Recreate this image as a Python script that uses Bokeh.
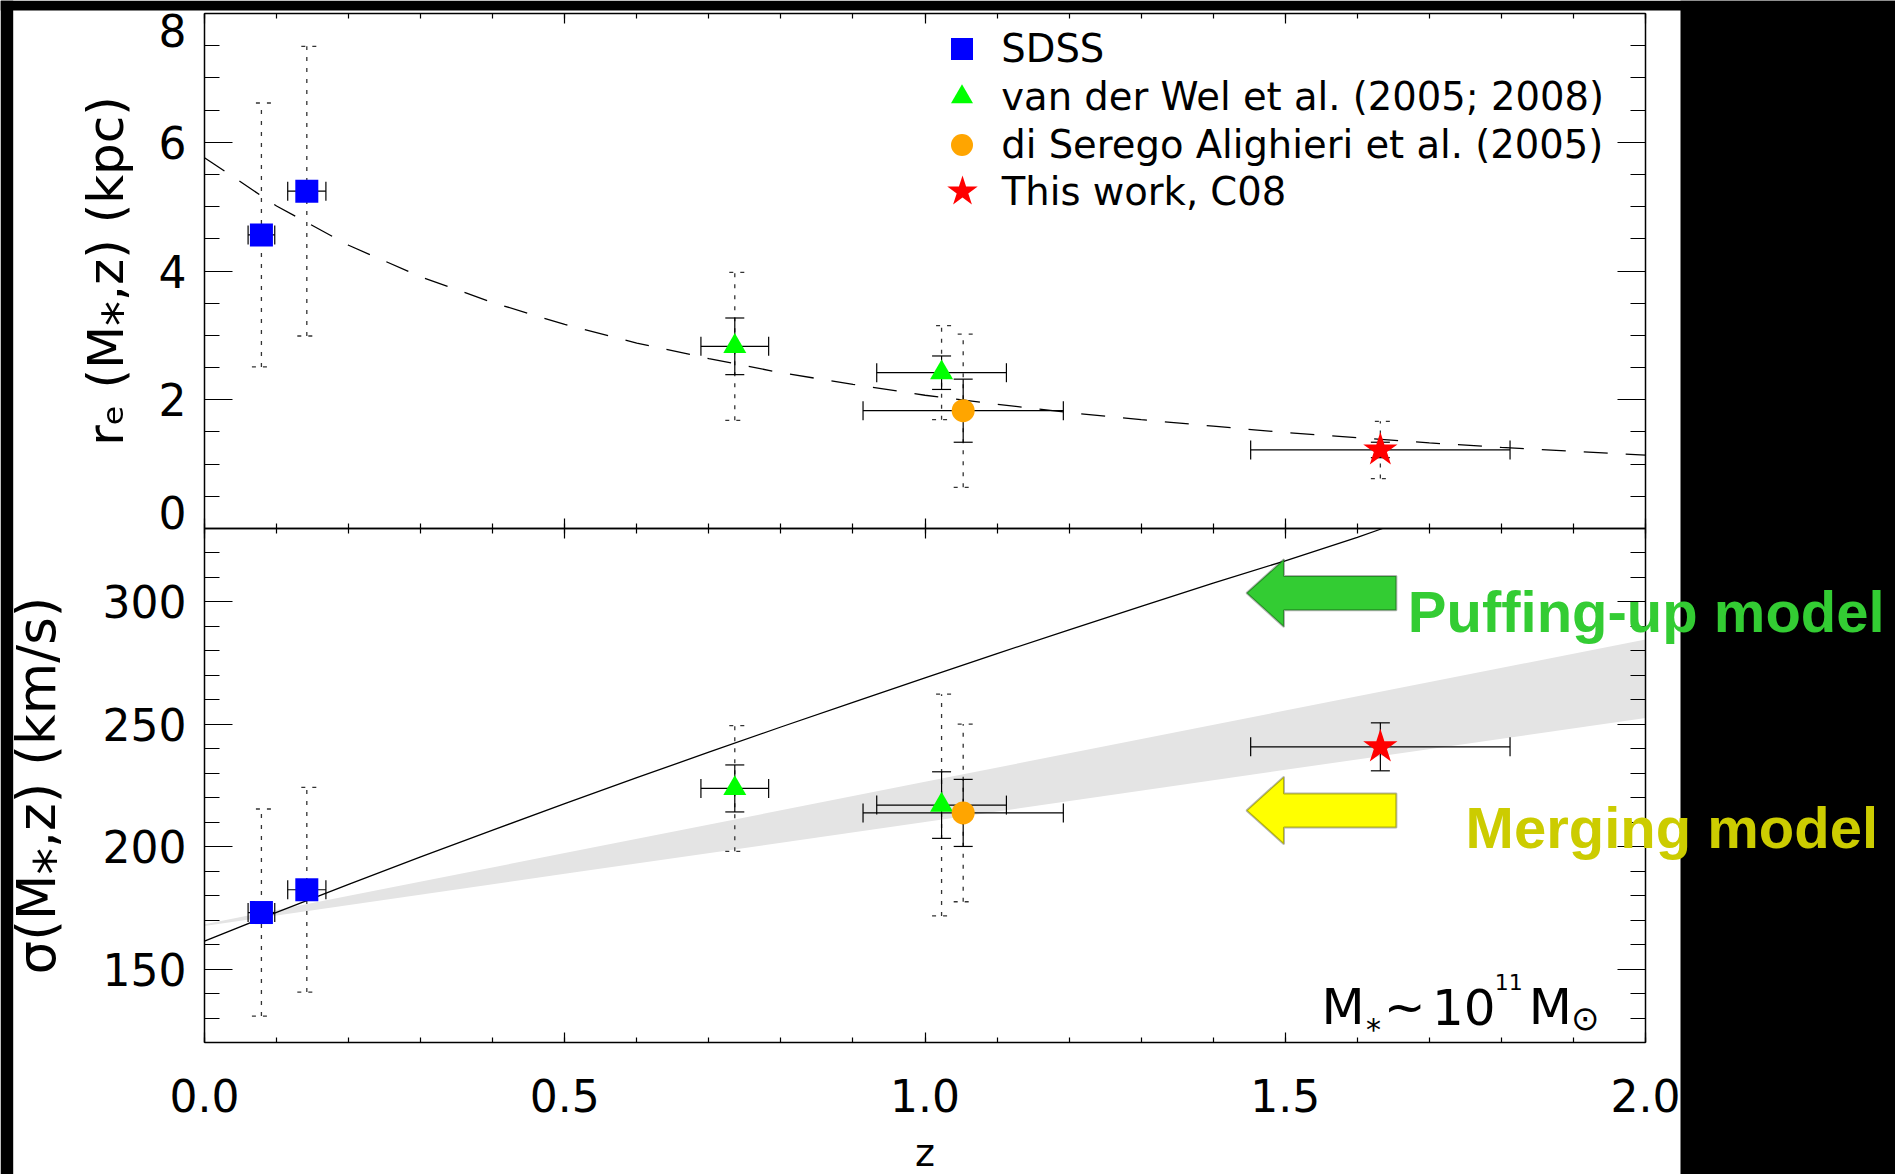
from bokeh.plotting import figure
from bokeh.models import (ColumnDataSource, Whisker, TeeHead, LinearAxis, SingleIntervalTicker,
                          Range1d, Legend, LegendItem, Label, BoxAnnotation, Band, PolyAnnotation,
                          PrintfTickFormatter, BasicTickFormatter)
from bokeh.embed import file_html
from bokeh.resources import INLINE

# ---------------- data ----------------
# SDSS
sdss_z = [0.079, 0.142]
sdss_zerr = [0.0185, 0.0265]
sdss_re = [4.56, 5.24]
sdss_re_scatter = [2.05, 2.25]
sdss_sigma = [173.1, 182.4]
sdss_sigma_scatter = [42.3, 41.8]

# van der Wel et al. (2005; 2008)
vdw_z = [0.736, 1.023]
vdw_zerr = [0.047, 0.090]
vdw_re = [2.83, 2.42]
vdw_re_err = [0.44, 0.26]
vdw_re_scatter = [1.15, 0.73]
vdw_sigma = [223.8, 217.0]
vdw_sigma_err = [9.6, 13.6]
vdw_sigma_scatter = [25.7, 45.3]

# di Serego Alighieri et al. (2005)
dsa_z = [1.053]
dsa_zerr = [0.139]
dsa_re = [1.83]
dsa_re_err = [0.49]
dsa_re_scatter = [1.19]
dsa_sigma = [213.8]
dsa_sigma_err = [13.7]
dsa_sigma_scatter = [36.3]

# This work, C08
c08_z = [1.632]
c08_zerr = [0.18]
c08_re = [1.22]
c08_re_err = [0.12]
c08_re_scatter = [0.445]
c08_sigma = [240.8]
c08_sigma_err = [9.8]

# size evolution curve r_e(z)
curve_z = [0.0, 0.1, 0.2, 0.3, 0.4, 0.5, 0.6, 0.7, 0.8, 0.9, 1.0,
           1.1, 1.2, 1.3, 1.4, 1.5, 1.6, 1.7, 1.8, 1.9, 2.0]
curve_re = [5.76, 5.01, 4.40, 3.91, 3.51, 3.17, 2.88, 2.64, 2.42, 2.24, 2.07,
            1.93, 1.80, 1.69, 1.59, 1.49, 1.41, 1.33, 1.26, 1.20, 1.14]

# puffing-up prediction sigma(z), up to where it leaves the panel
puff_z = [0.0, 0.1, 0.2, 0.3, 0.4, 0.5, 0.6, 0.7, 0.8, 0.9,
          1.0, 1.1, 1.2, 1.3, 1.4, 1.5, 1.6, 1.635]
puff_sigma = [161.4, 173.2, 184.6, 195.8, 206.8, 217.6, 228.2, 238.6, 248.9, 259.0,
              269.0, 278.9, 288.6, 298.2, 307.7, 316.8, 326.4, 330.0]

# merging prediction band
band_z = [0.0, 0.5, 1.0, 1.5, 2.0]
band_lo = [167.6, 188.9, 210.1, 231.4, 252.6]
band_hi = [168.3, 197.4, 226.5, 255.6, 284.7]

# axis limits and labels
z_limits = (0.0, 2.0)
re_limits = (0.0, 8.0)
sigma_limits = (120.0, 330.0)

series_labels = ["SDSS", "van der Wel et al. (2005; 2008)",
                 "di Serego Alighieri et al. (2005)", "This work, C08"]
re_title = "rₑ (M⁎,z) (kpc)"
sigma_title = "σ(M⁎,z) (km/s)"

# ---------------- page geometry (pixels) ----------------
PAGE_W, PAGE_H = 1895, 1174
PANEL_L, PANEL_R = 204, 1645          # panel frame, left / right
TOP_Y, MID_Y, BOT_Y = 13, 528, 1042   # panel frame, top / divider / bottom

TEXT_FONT = "DejaVu Sans"
NOTE_FONT = "Liberation Sans"
BLUE, GREEN, ORANGE, RED = "#0000ff", "#00ff00", "#ffa500", "#ff0000"
SCATTER_COLOR = "#333333"
DOT = "4 7"

# the whole canvas is one frame; both panels share it through two y ranges
zpp = (z_limits[1] - z_limits[0]) / (PANEL_R - PANEL_L)
x_start = z_limits[0] - PANEL_L * zpp
x_end = z_limits[1] + (PAGE_W - PANEL_R) * zpp

spp = (sigma_limits[1] - sigma_limits[0]) / (BOT_Y - MID_Y)
sig_start = sigma_limits[0] - (PAGE_H - BOT_Y) * spp
sig_end = sigma_limits[1] + MID_Y * spp

rpp = (re_limits[1] - re_limits[0]) / (MID_Y - TOP_Y)
re_start = re_limits[0] - (PAGE_H - MID_Y) * rpp
re_end = re_limits[1] + TOP_Y * rpp


def z_at(px):
    return x_start + px * zpp


def sig_at(py):
    return sig_end - py * spp


p = figure(width=PAGE_W, height=PAGE_H, x_range=Range1d(x_start, x_end),
           y_range=Range1d(sig_start, sig_end), extra_y_ranges={"re": Range1d(re_start, re_end)},
           x_axis_location=None, y_axis_location=None, toolbar_location=None,
           output_backend="svg", min_border=0, outline_line_color=None,
           background_fill_color="white", border_fill_color="white")
p.grid.visible = False

z_ticker = SingleIntervalTicker(interval=0.5, num_minor_ticks=5)
re_ticker = SingleIntervalTicker(interval=2, num_minor_ticks=4)
sigma_ticker = SingleIntervalTicker(interval=50, num_minor_ticks=5)


def add_axis(side, ticker, loc, bounds, major_len, minor_len, y_range_name="default",
             show_labels=False, formatter=None, title=None, label_standoff=18,
             title_standoff=24, title_size="50px", overrides=None):
    ax = LinearAxis(ticker=ticker, fixed_location=loc, bounds=bounds, y_range_name=y_range_name,
                    major_tick_in=major_len, major_tick_out=0,
                    minor_tick_in=minor_len, minor_tick_out=0,
                    axis_line_color="black", axis_line_width=1.5,
                    major_tick_line_color="black", major_tick_line_width=1.2,
                    minor_tick_line_color="black", minor_tick_line_width=1.2)
    if show_labels:
        ax.formatter = formatter or BasicTickFormatter()
        ax.major_label_text_font = TEXT_FONT
        ax.major_label_text_font_size = "44px"
        ax.major_label_text_color = "black"
        ax.major_label_standoff = label_standoff
        if overrides:
            ax.major_label_overrides = overrides
    else:
        ax.formatter = PrintfTickFormatter(format="")
        ax.major_label_text_font_size = "0px"
        ax.major_label_standoff = 0
    if title:
        ax.axis_label = title
        ax.axis_label_text_font = TEXT_FONT
        ax.axis_label_text_font_size = title_size
        ax.axis_label_text_font_style = "normal"
        ax.axis_label_text_color = "black"
        ax.axis_label_standoff = title_standoff
    p.add_layout(ax, side)
    return ax


# upper panel box (r_e)
add_axis("left", re_ticker, z_limits[0], re_limits, 28, 15, "re", show_labels=True,
         title=re_title, title_standoff=21,
         overrides={int(re_limits[0]): "", int(re_limits[1]): ""})
add_axis("right", re_ticker, z_limits[1], re_limits, 28, 15, "re")
add_axis("above", z_ticker, re_limits[1], z_limits, 10, 5, "re")
add_axis("below", z_ticker, re_limits[0], z_limits, 10, 5, "re")

# lower panel box (sigma)
add_axis("left", sigma_ticker, z_limits[0], sigma_limits, 28, 15, show_labels=True,
         title=sigma_title, title_standoff=33, title_size="53px")
add_axis("right", sigma_ticker, z_limits[1], sigma_limits, 28, 15)
add_axis("above", z_ticker, sigma_limits[1], z_limits, 10, 5)
add_axis("below", z_ticker, sigma_limits[0], z_limits, 10, 5, show_labels=True,
         formatter=PrintfTickFormatter(format="%.1f"), label_standoff=36,
         title="z", title_standoff=16, title_size="38px")

# end labels of the r_e axis sit just inside the panel
for val, off in [(re_limits[1], -16.5), (re_limits[0], 16.5)]:
    p.add_layout(Label(x=z_limits[0], y=val, y_range_name="re", x_offset=-18, y_offset=off,
                       text=f"{val:.0f}", text_align="right", text_baseline="middle",
                       text_font=TEXT_FONT, text_font_size="44px", text_color="black"))


def add_errors(xs, ys, xerr=None, yerr=None, yscatter=None, y_range_name="default"):
    if yscatter:
        src = ColumnDataSource(dict(x=xs, lo=[y - e for y, e in zip(ys, yscatter)],
                                    hi=[y + e for y, e in zip(ys, yscatter)]))
        head = dict(size=19, line_color=SCATTER_COLOR, line_width=1.3, line_dash=DOT)
        p.add_layout(Whisker(source=src, base="x", lower="lo", upper="hi", dimension="height",
                             y_range_name=y_range_name, level="underlay",
                             line_color=SCATTER_COLOR, line_width=1.3, line_dash=DOT,
                             lower_head=TeeHead(**head), upper_head=TeeHead(**head)))
    if yerr:
        src = ColumnDataSource(dict(x=xs, lo=[y - e for y, e in zip(ys, yerr)],
                                    hi=[y + e for y, e in zip(ys, yerr)]))
        head = dict(size=19, line_color="black", line_width=1.2)
        p.add_layout(Whisker(source=src, base="x", lower="lo", upper="hi", dimension="height",
                             y_range_name=y_range_name, level="underlay",
                             line_color="black", line_width=1.2,
                             lower_head=TeeHead(**head), upper_head=TeeHead(**head)))
    if xerr:
        src = ColumnDataSource(dict(y=ys, lo=[x - e for x, e in zip(xs, xerr)],
                                    hi=[x + e for x, e in zip(xs, xerr)]))
        head = dict(size=19, line_color="black", line_width=1.2)
        p.add_layout(Whisker(source=src, base="y", lower="lo", upper="hi", dimension="width",
                             y_range_name=y_range_name, level="underlay",
                             line_color="black", line_width=1.2,
                             lower_head=TeeHead(**head), upper_head=TeeHead(**head)))


def add_points(xs, ys, marker, size, color, y_range_name="default"):
    return p.scatter(xs, ys, marker=marker, size=size, fill_color=color, line_color=None,
                     y_range_name=y_range_name)


# ---------------- upper panel: effective radius ----------------
p.line(curve_z, curve_re, y_range_name="re", line_color="black", line_width=1.3,
       line_dash="24 18")

add_errors(sdss_z, sdss_re, xerr=sdss_zerr, yscatter=sdss_re_scatter, y_range_name="re")
add_errors(vdw_z, vdw_re, xerr=vdw_zerr, yerr=vdw_re_err, yscatter=vdw_re_scatter, y_range_name="re")
add_errors(dsa_z, dsa_re, xerr=dsa_zerr, yerr=dsa_re_err, yscatter=dsa_re_scatter, y_range_name="re")
add_errors(c08_z, c08_re, xerr=c08_zerr, yerr=c08_re_err, yscatter=c08_re_scatter, y_range_name="re")

r_sdss = add_points(sdss_z, sdss_re, "square", 23, BLUE, "re")
r_vdw = add_points(vdw_z, vdw_re, "triangle", 23, GREEN, "re")
r_dsa = add_points(dsa_z, dsa_re, "circle", 23, ORANGE, "re")
r_c08 = add_points(c08_z, c08_re, "star", 36, RED, "re")

# legend rows (one legend per row so each marker keeps its own size)
row_centers = [48.2, 96.4, 144.6, 191.0]
marker_cx = 961.8
for label, rend, cy, g, stand in zip(series_labels, [r_sdss, r_vdw, r_dsa, r_c08], row_centers,
                                     [55, 55, 55, 80], [12, 12, 12, 0]):
    leg = Legend(items=[LegendItem(label=label, renderers=[rend])],
                 location=(marker_cx - g / 2, PAGE_H - (cy + g / 2)),
                 glyph_width=g, glyph_height=g, label_standoff=stand, padding=0, margin=0,
                 border_line_alpha=0, background_fill_alpha=0,
                 label_text_font=TEXT_FONT, label_text_font_size="38.5px",
                 label_text_color="black")
    p.add_layout(leg)

# ---------------- lower panel: velocity dispersion ----------------
band_src = ColumnDataSource(dict(z=band_z, lo=band_lo, hi=band_hi))
p.add_layout(Band(source=band_src, base="z", lower="lo", upper="hi", level="underlay",
                  fill_color="#e4e4e4", fill_alpha=1.0, line_color=None))

add_errors(sdss_z, sdss_sigma, xerr=sdss_zerr, yscatter=sdss_sigma_scatter)
add_errors(vdw_z, vdw_sigma, xerr=vdw_zerr, yerr=vdw_sigma_err, yscatter=vdw_sigma_scatter)
add_errors(dsa_z, dsa_sigma, xerr=dsa_zerr, yerr=dsa_sigma_err, yscatter=dsa_sigma_scatter)
add_errors(c08_z, c08_sigma, xerr=c08_zerr, yerr=c08_sigma_err)

p.line(puff_z, puff_sigma, line_color="black", line_width=1.3)

add_points(sdss_z, sdss_sigma, "square", 23, BLUE)
add_points(vdw_z, vdw_sigma, "triangle", 23, GREEN)
add_points(dsa_z, dsa_sigma, "circle", 23, ORANGE)
add_points(c08_z, c08_sigma, "star", 36, RED)

# block arrows pointing at the two model predictions
HEAD_LEN, TOTAL_LEN = 0.052, 0.208      # along z
HEAD_HALF, SHAFT_HALF = 13.8, 6.95      # along sigma


def block_arrow(tip_x, tip_y, color):
    xs = [tip_x, tip_x + HEAD_LEN, tip_x + HEAD_LEN, tip_x + TOTAL_LEN,
          tip_x + TOTAL_LEN, tip_x + HEAD_LEN, tip_x + HEAD_LEN]
    ys = [tip_y, tip_y + HEAD_HALF, tip_y + SHAFT_HALF, tip_y + SHAFT_HALF,
          tip_y - SHAFT_HALF, tip_y - SHAFT_HALF, tip_y - HEAD_HALF]
    p.add_layout(PolyAnnotation(xs=xs, ys=ys, fill_color=color, fill_alpha=1.0,
                                line_color="black", line_width=2))


block_arrow(1.4462, 303.6, "#33cc33")
block_arrow(1.4462, 214.8, "#ffff00")

# stellar mass note, assembled piece by piece from the panel's lower-right corner
mass_note = [("M", -324, 35.3, "50px"), ("*", -279.5, 13.5, "30px"), ("~", -261.7, 35.3, "50px"),
             ("10", -213.6, 35.3, "50px"), ("11", -150.7, 60.3, "22px"), ("M", -116.8, 35.3, "50px"),
             ("⊙", -74.4, 24.3, "34px")]
for text, dx, dy, size in mass_note:
    p.add_layout(Label(x=z_limits[1], y=sigma_limits[0], x_offset=dx, y_offset=dy, text=text,
                       text_font=TEXT_FONT, text_font_size=size, text_color="black",
                       text_align="left", text_baseline="alphabetic"))

# black page margins around the figure area
for left, right, bottom, top in [(0, 12.7, PAGE_H, 0), (0, PAGE_W, 10, 0), (1680, PAGE_W, PAGE_H, 0)]:
    p.add_layout(BoxAnnotation(left=z_at(left), right=z_at(right), bottom=sig_at(bottom),
                               top=sig_at(top), fill_color="black", fill_alpha=1.0,
                               line_color=None, level="annotation"))

for text, x, y, color in [("Puffing-up model", 1.6701, 296.2, "#33cc33"),
                          ("Merging model", 1.7503, 207.7, "#cccc00")]:
    p.add_layout(Label(x=x, y=y, text=text, text_font=NOTE_FONT, text_font_style="bold",
                       text_font_size="58px", text_color=color, text_align="left",
                       text_baseline="alphabetic", level="overlay"))

open("out.html", "w").write(file_html(p, INLINE))
